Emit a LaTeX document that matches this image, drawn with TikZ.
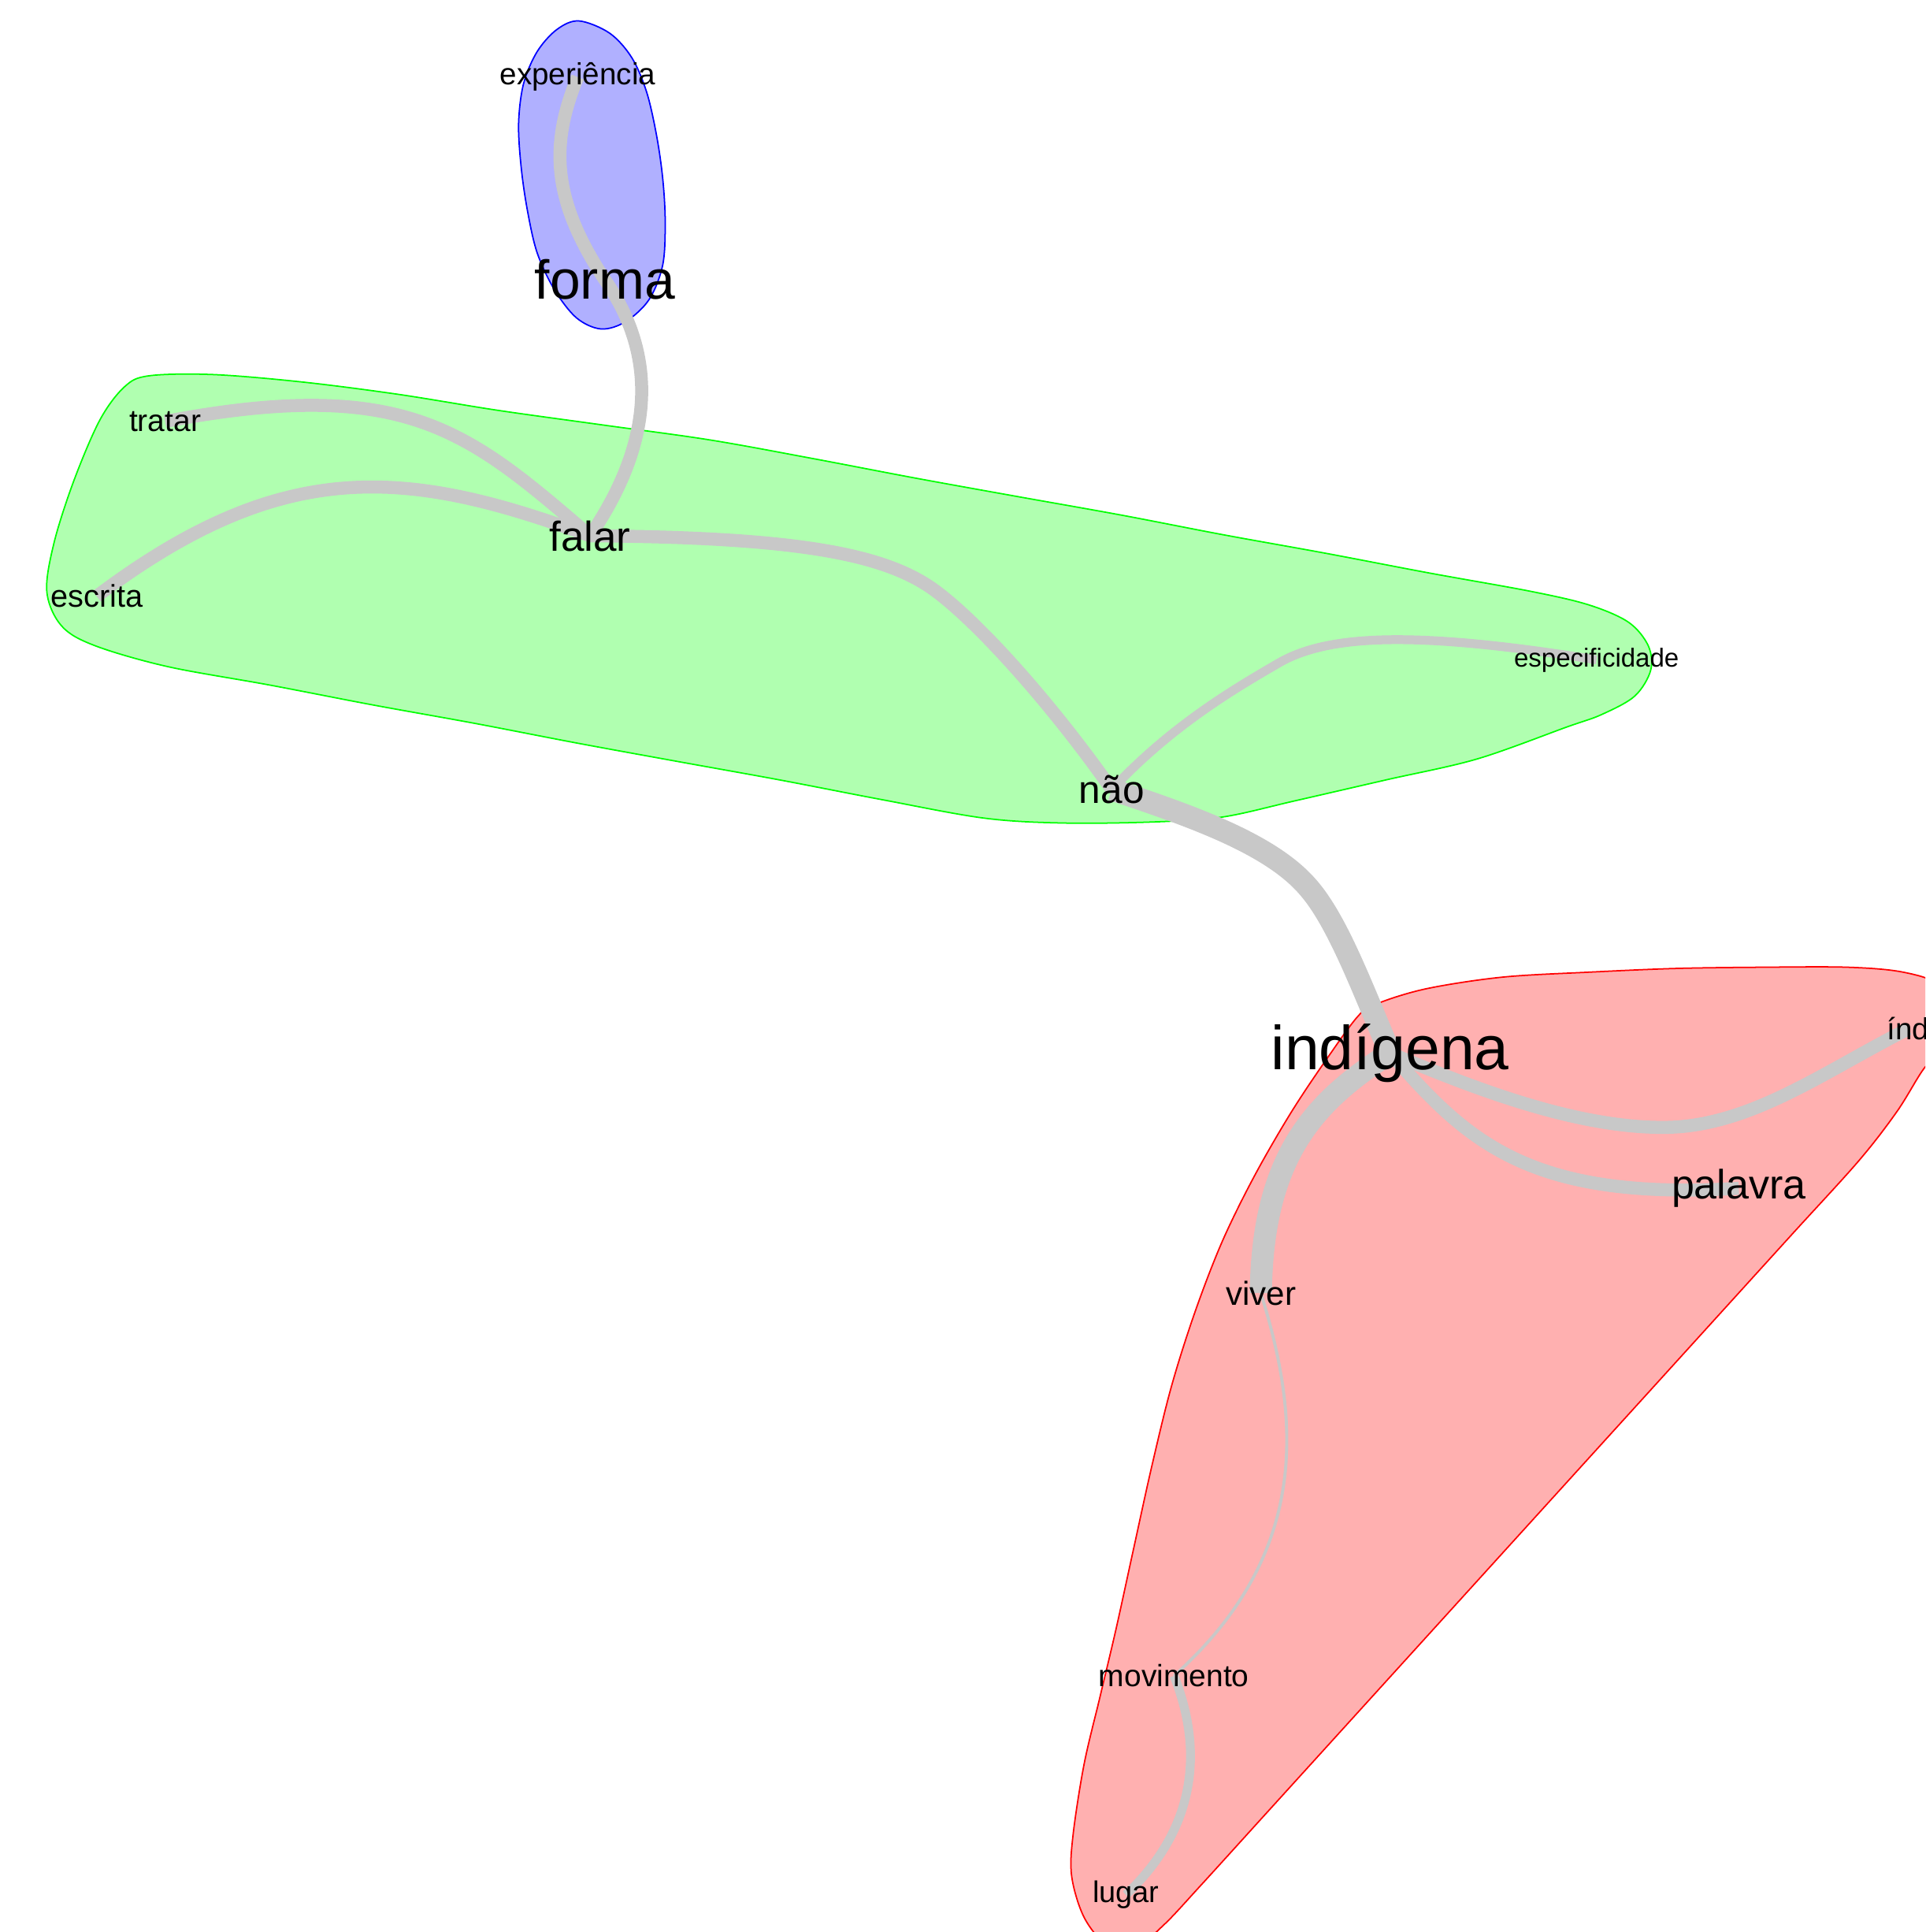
\documentclass[tikz,border=0pt]{standalone}
\usepackage{fontspec}
\setmainfont{Liberation Sans}
\pgfdeclarelayer{hulls}
\pgfdeclarelayer{edges}
\pgfsetlayers{hulls,edges,main}
\definecolor{hullblue}{RGB}{176,176,255}
\definecolor{hullgreen}{RGB}{176,255,176}
\definecolor{hullred}{RGB}{255,176,176}
\definecolor{lineblue}{RGB}{0,0,255}
\definecolor{linegreen}{RGB}{0,255,0}
\definecolor{linered}{RGB}{255,0,0}
\definecolor{edgegray}{RGB}{200,200,200}
\newcommand\fsz[1]{\fontsize{#1}{#1}\selectfont}
\tikzset{
  lbl/.style={inner sep=0pt, outer sep=0pt, anchor=base, text=black},
  hull/.style={line width=0.5pt},
  ethick/.style={draw=edgegray, line width=8pt},
  emed/.style={draw=edgegray, line width=4.7pt},
  ethin/.style={draw=edgegray, line width=3.2pt},
  ehair/.style={draw=edgegray, line width=1.1pt},
}
\begin{document}
\begin{tikzpicture}[x=0.015637cm, y=-0.015637cm]
\useasboundingbox (0,0) rectangle (1563,1568);

% labels
\node[lbl, font=\fsz{11}]   (exp)     at (469,69)   {experiência};
\node[lbl, font=\fsz{19.8}] (forma)   at (491,243)  {forma};
\node[lbl, font=\fsz{11.1}] (tratar)  at (134,350)  {tratar};
\node[lbl, font=\fsz{15.1}] (falar)   at (479,447)  {falar};
\node[lbl, font=\fsz{11.3}] (escrita) at (78.5,493) {escrita};
\node[lbl, font=\fsz{9.4}]  (spec)    at (1296,541) {especificidade};
\node[lbl, font=\fsz{14.1}] (nao)     at (902.5,652) {não};
\node[lbl, font=\fsz{22.4}] (ind)     at (1128.5,868) {indígena};
\node[lbl, font=\fsz{11}, anchor=base west] (indd) at (1532,844) {índ};
\node[lbl, font=\fsz{14.8}] (palavra) at (1411.5,973) {palavra};
\node[lbl, font=\fsz{12}]   (viver)   at (1023.5,1059) {viver};
\node[lbl, font=\fsz{11.1}] (mov)     at (953,1369) {movimento};
\node[lbl, font=\fsz{10.8}] (lugar)   at (914,1544) {lugar};

\coordinate (e1) at (760,480);
\coordinate (f1) at (1040,537);
\coordinate (g1) at (1060,718);
\coordinate (i1) at (1350,915);

\begin{pgfonlayer}{hulls}
\clip (0,0) rectangle (1563,1568);
\filldraw[hull, fill=hullblue, draw=lineblue] plot[smooth cycle, tension=0.55] coordinates {
 (470,17) (495,27) (513,47) (525,75) (533,110) (538,145) (540,180) (538,215) (527,243)
 (508,261) (488,267) (468,258) (450,235) (436,205) (428,170) (423,135) (421,100) (425,68)
 (436,42) (452,24)};
\filldraw[hull, fill=hullgreen, draw=linegreen] plot[smooth cycle, tension=0.55] coordinates {
 (121,305) (173,304) (245,310) (323,320) (404,333) (490,345) (576,357) (659,372) (743,388)
 (826,403) (910,418) (993,434) (1076,449) (1160,465) (1243,480) (1290,491) (1322,505)
 (1338,524) (1340,544) (1327,565) (1300,580) (1272,590) (1199,616) (1125,633) (1051,650)
 (993,663) (939,667) (865,668) (799,664) (716,649) (633,633) (550,618) (468,603) (385,587)
 (302,572) (219,556) (136,541) (77,524) (50,508) (38,480) (44,440) (60,390) (81,341) (101,314)};
\filldraw[hull, fill=hullred, draw=linered] plot[smooth cycle, tension=0.55] coordinates {
 (1104,823) (1122,813) (1160,802) (1220,793) (1290,789) (1360,786) (1430,785) (1500,785)
 (1545,789) (1575,800) (1590,828) (1578,852) (1562,867) (1540,902) (1509,942)
 (1455.5,1000.9) (1402,1059.8) (1348.5,1118.7) (1295,1177.6) (1241.5,1236.5) (1188,1295.4)
 (1134.5,1354.3) (1081,1413.2) (1027.5,1472.1) (974,1531) (945,1562) (920,1582) (898,1578)
 (880,1556) (870,1523) (871,1490) (880,1432) (893,1377) (906,1322) (920,1258) (935,1190)
 (951,1125) (970,1065) (992,1008) (1018,955) (1048,903) (1078,858)};
\end{pgfonlayer}

\begin{pgfonlayer}{edges}
\draw[emed] (exp.center) .. controls (445,120) and (450,165) .. (forma.center);
\draw[emed] (forma.center) .. controls (535,290) and (530,360) .. (falar.center);
\draw[emed] (falar.center) .. controls (380,350) and (330,305) .. (tratar.center);
\draw[emed] (falar.center) .. controls (330,380) and (230,370) .. (escrita.center);
\draw[emed] (falar.center) .. controls (650,436) and (720,450) .. (e1)
            .. controls (800,510) and (860,580) .. (nao.center);
\draw[ethin] (nao.center) .. controls (950,590) and (1000,560) .. (f1)
            .. controls (1080,515) and (1150,512) .. (spec.center);
\draw[ethick] (nao.center) .. controls (970,663) and (1030,685) .. (g1)
            .. controls (1085,745) and (1105,800) .. (ind.center);
\draw[ethick] (ind.center) .. controls (1065,895) and (1025,940) .. (viver.center);
\draw[emed] (ind.center) .. controls (1200,885) and (1280,915) .. (i1)
            .. controls (1420,915) and (1480,870) .. (indd.center);
\draw[emed] (ind.center) .. controls (1190,925) and (1240,975) .. (palavra.center);
\draw[ehair] (viver.center) .. controls (1055,1150) and (1065,1260) .. (mov.center);
\draw[ethin] (mov.center) .. controls (975,1415) and (975,1480) .. (lugar.center);
\end{pgfonlayer}
\end{tikzpicture}
\end{document}
